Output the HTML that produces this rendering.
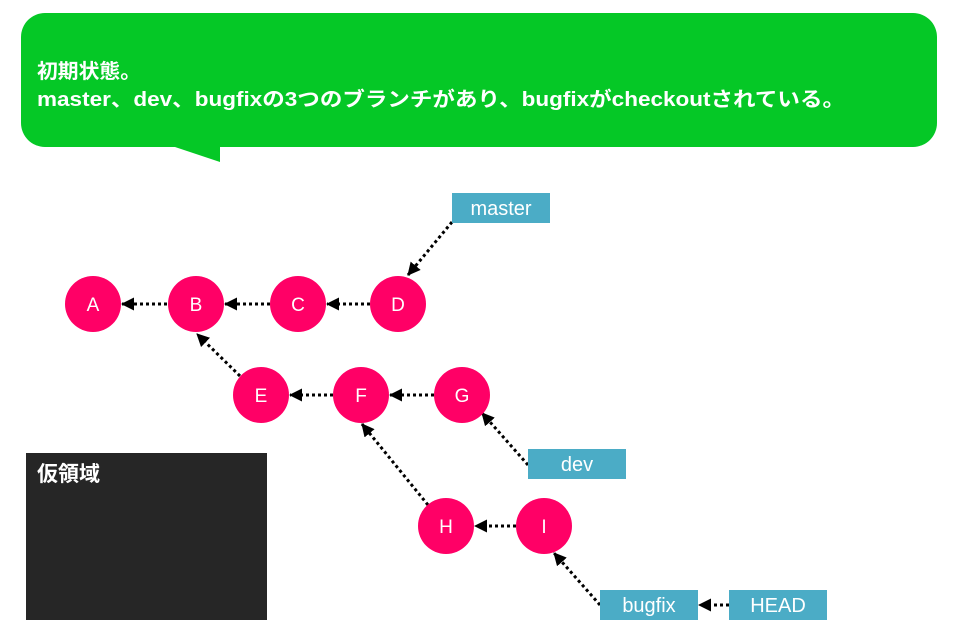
<!DOCTYPE html>
<html><head><meta charset="utf-8"><style>
html,body{margin:0;padding:0;background:#fff;width:960px;height:642px;overflow:hidden}
text{font-family:"Liberation Sans","Noto Sans CJK JP",sans-serif}
</style></head><body>
<svg width="960" height="642" viewBox="0 0 960 642" xmlns="http://www.w3.org/2000/svg">
<defs><marker id="ah" markerWidth="13" markerHeight="13" refX="12" refY="6.5" orient="auto" markerUnits="userSpaceOnUse"><path d="M0,0 L13,6.5 L0,13 z" fill="#000"/></marker></defs>
<rect x="21" y="13" width="916" height="134" rx="24" fill="#05c826"/>
<path d="M172,146 L220,162 L220,146 z" fill="#05c826"/>
<text x="37" y="78" fill="#fff" font-size="20" font-weight="bold" textLength="104" lengthAdjust="spacingAndGlyphs">初期状態。</text>
<text x="37" y="106" fill="#fff" font-size="20" font-weight="bold" textLength="808" lengthAdjust="spacingAndGlyphs">master、dev、bugfixの3つのブランチがあり、bugfixがcheckoutされている。</text>
<rect x="26" y="453" width="241" height="167" fill="#262626"/>
<text x="37" y="481" fill="#fff" font-size="21" font-weight="bold">仮領域</text>
<g stroke="#000" stroke-width="3" stroke-dasharray="3 3" fill="none" marker-end="url(#ah)">
<line x1="167" y1="304" x2="122" y2="304"/>
<line x1="270" y1="304" x2="225" y2="304"/>
<line x1="370" y1="304" x2="327" y2="304"/>
<line x1="452" y1="222" x2="408" y2="275"/>
<line x1="240" y1="376" x2="197" y2="334"/>
<line x1="333" y1="395" x2="290" y2="395"/>
<line x1="434" y1="395" x2="390" y2="395"/>
<line x1="528" y1="465" x2="482" y2="413"/>
<line x1="428" y1="505" x2="362" y2="424"/>
<line x1="516" y1="526" x2="475" y2="526"/>
<line x1="600" y1="605" x2="554" y2="553"/>
<line x1="729" y1="605" x2="699" y2="605"/>
</g>
<g fill="#ff0066">
<circle cx="93" cy="304" r="28"/><circle cx="196" cy="304" r="28"/><circle cx="298" cy="304" r="28"/><circle cx="398" cy="304" r="28"/>
<circle cx="261" cy="395" r="28"/><circle cx="361" cy="395" r="28"/><circle cx="462" cy="395" r="28"/>
<circle cx="446" cy="526" r="28"/><circle cx="544" cy="526" r="28"/>
</g>
<g fill="#fff" font-size="19" text-anchor="middle">
<text x="93" y="311">A</text><text x="196" y="311">B</text><text x="298" y="311">C</text><text x="398" y="311">D</text>
<text x="261" y="402">E</text><text x="361" y="402">F</text><text x="462" y="402">G</text>
<text x="446" y="533">H</text><text x="544" y="533">I</text>
</g>
<g fill="#4bacc6">
<rect x="452" y="193" width="98" height="30"/>
<rect x="528" y="449" width="98" height="30"/>
<rect x="600" y="590" width="98" height="30"/>
<rect x="729" y="590" width="98" height="30"/>
</g>
<g fill="#fff" font-size="20" text-anchor="middle">
<text x="501" y="215">master</text>
<text x="577" y="471">dev</text>
<text x="649" y="612">bugfix</text>
<text x="778" y="612">HEAD</text>
</g>
</svg>
</body></html>
